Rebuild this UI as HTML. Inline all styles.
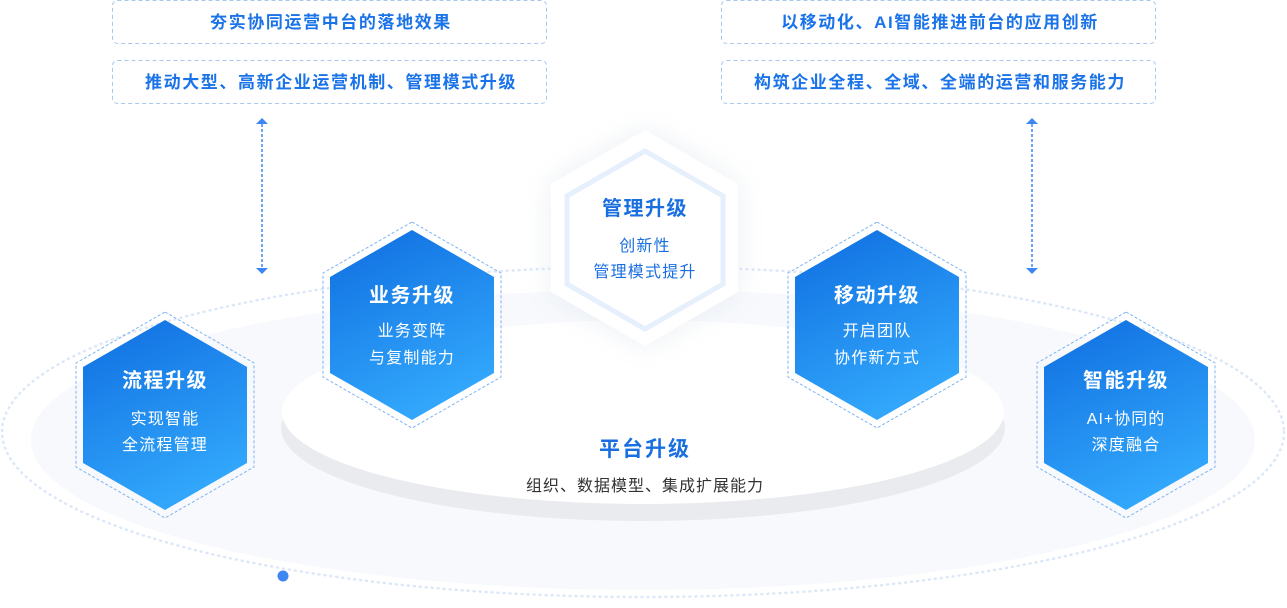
<!DOCTYPE html>
<html><head><meta charset="utf-8"><style>
html,body{margin:0;padding:0;background:#fff;width:1287px;height:608px;overflow:hidden}
svg{display:block}
text{font-family:"Liberation Sans","Noto Sans CJK SC",sans-serif}
</style></head><body>
<svg width="1287" height="608" viewBox="0 0 1287 608" xmlns="http://www.w3.org/2000/svg">
<defs>
<linearGradient id="hg" x1="0" y1="0" x2="0.4" y2="1">
<stop offset="0" stop-color="#0f6de0"/><stop offset="1" stop-color="#31a6fb"/>
</linearGradient>
<filter id="sh" x="-50%" y="-50%" width="200%" height="200%"><feGaussianBlur stdDeviation="14"/></filter>
</defs>
<ellipse cx="643" cy="440" rx="612" ry="150" fill="#f7f9fc"/>
<ellipse cx="643" cy="432" rx="641" ry="165" fill="none" stroke="#dce8f8" stroke-width="2.5" stroke-dasharray="1 5" stroke-linecap="round"/>
<circle cx="283" cy="576" r="5.5" fill="#3d86f2"/>
<ellipse cx="643" cy="428" rx="362" ry="93" fill="#e9ebee"/>
<ellipse cx="643" cy="412" rx="361" ry="92" fill="#ffffff"/>
<text x="645" y="456" font-size="21" font-weight="bold" fill="#1a6fe0" text-anchor="middle" letter-spacing="2">平台升级</text>
<text x="645" y="491" font-size="16" fill="#333" text-anchor="middle" letter-spacing="1">组织、数据模型、集成扩展能力</text>

<g fill="none" stroke="#a9c8f0" stroke-dasharray="4 3" stroke-width="1">
<rect x="112.5" y="0.5" width="434" height="43" rx="5"/>
<rect x="112.5" y="60.5" width="434" height="43" rx="5"/>
<rect x="721.5" y="0.5" width="434" height="43" rx="5"/>
<rect x="721.5" y="60.5" width="434" height="43" rx="5"/>
</g>
<g font-size="17" font-weight="bold" fill="#1a73e8" text-anchor="middle" letter-spacing="1.6">
<text x="331" y="28">夯实协同运营中台的落地效果</text>
<text x="331" y="88">推动大型、高新企业运营机制、管理模式升级</text>
<text x="940" y="28">以移动化、AI智能推进前台的应用创新</text>
<text x="940" y="88">构筑企业全程、全域、全端的运营和服务能力</text>
</g>
<g stroke="#3d86f2" stroke-width="1.5" stroke-dasharray="3 2">
<line x1="262" y1="124" x2="262" y2="268"/><line x1="1032" y1="124" x2="1032" y2="268"/>
</g>
<g fill="#3d86f2">
<path d="M256,124 L262,118 L268,124Z"/><path d="M256,268 L262,274 L268,268Z"/>
<path d="M1026,124 L1032,118 L1038,124Z"/><path d="M1026,268 L1032,274 L1038,268Z"/>
</g>

<!-- management hex -->
<polygon points="645,130 738,184 738,292 645,346 551,292 551,184" fill="#dfe4ec" opacity="0.6" filter="url(#sh)"/>
<polygon points="645,130 738,184 738,292 645,346 551,292 551,184" fill="#fff"/>
<polygon points="645,151 723,196 723,284 645,329 567,284 567,196" fill="none" stroke="#e6effc" stroke-width="5"/>
<text x="645" y="215" font-size="20" font-weight="bold" fill="#1a6fe0" text-anchor="middle" letter-spacing="1.5">管理升级</text>
<text x="645" y="251" font-size="16" fill="#1a6fe0" text-anchor="middle" letter-spacing="1.2">创新性</text>
<text x="645" y="277" font-size="16" fill="#1a6fe0" text-anchor="middle" letter-spacing="1.2">管理模式提升</text>

<g font-family="Liberation Sans,Noto Sans CJK SC,sans-serif">
<g transform="translate(165,415)">
<polygon points="0,-103 89,-52 89,52 0,103 -89,52 -89,-52" fill="none" stroke="#7fb3f3" stroke-dasharray="3 2"/>
<polygon points="0,-95 82,-48 82,48 0,95 -82,48 -82,-48" fill="url(#hg)"/>
<text x="0" y="-28" font-size="20" font-weight="bold" fill="#fff" text-anchor="middle" letter-spacing="1.5">流程升级</text>
<text x="0" y="9" font-size="16" fill="#fff" text-anchor="middle" letter-spacing="1.2">实现智能</text>
<text x="0" y="35" font-size="16" fill="#fff" text-anchor="middle" letter-spacing="1.2">全流程管理</text>
</g>
<g transform="translate(412,325)">
<polygon points="0,-103 89,-52 89,52 0,103 -89,52 -89,-52" fill="none" stroke="#7fb3f3" stroke-dasharray="3 2"/>
<polygon points="0,-95 82,-48 82,48 0,95 -82,48 -82,-48" fill="url(#hg)"/>
<text x="0" y="-23" font-size="20" font-weight="bold" fill="#fff" text-anchor="middle" letter-spacing="1.5">业务升级</text>
<text x="0" y="11" font-size="16" fill="#fff" text-anchor="middle" letter-spacing="1.2">业务变阵</text>
<text x="0" y="38" font-size="16" fill="#fff" text-anchor="middle" letter-spacing="1.2">与复制能力</text>
</g>
<g transform="translate(877,325)">
<polygon points="0,-103 89,-52 89,52 0,103 -89,52 -89,-52" fill="none" stroke="#7fb3f3" stroke-dasharray="3 2"/>
<polygon points="0,-95 82,-48 82,48 0,95 -82,48 -82,-48" fill="url(#hg)"/>
<text x="0" y="-23" font-size="20" font-weight="bold" fill="#fff" text-anchor="middle" letter-spacing="1.5">移动升级</text>
<text x="0" y="11" font-size="16" fill="#fff" text-anchor="middle" letter-spacing="1.2">开启团队</text>
<text x="0" y="38" font-size="16" fill="#fff" text-anchor="middle" letter-spacing="1.2">协作新方式</text>
</g>
<g transform="translate(1126,415)">
<polygon points="0,-103 89,-52 89,52 0,103 -89,52 -89,-52" fill="none" stroke="#7fb3f3" stroke-dasharray="3 2"/>
<polygon points="0,-95 82,-48 82,48 0,95 -82,48 -82,-48" fill="url(#hg)"/>
<text x="0" y="-28" font-size="20" font-weight="bold" fill="#fff" text-anchor="middle" letter-spacing="1.5">智能升级</text>
<text x="0" y="9" font-size="16" fill="#fff" text-anchor="middle" letter-spacing="1">AI+协同的</text>
<text x="0" y="35" font-size="16" fill="#fff" text-anchor="middle" letter-spacing="1.2">深度融合</text>
</g>
</g>
</svg>
</body></html>
